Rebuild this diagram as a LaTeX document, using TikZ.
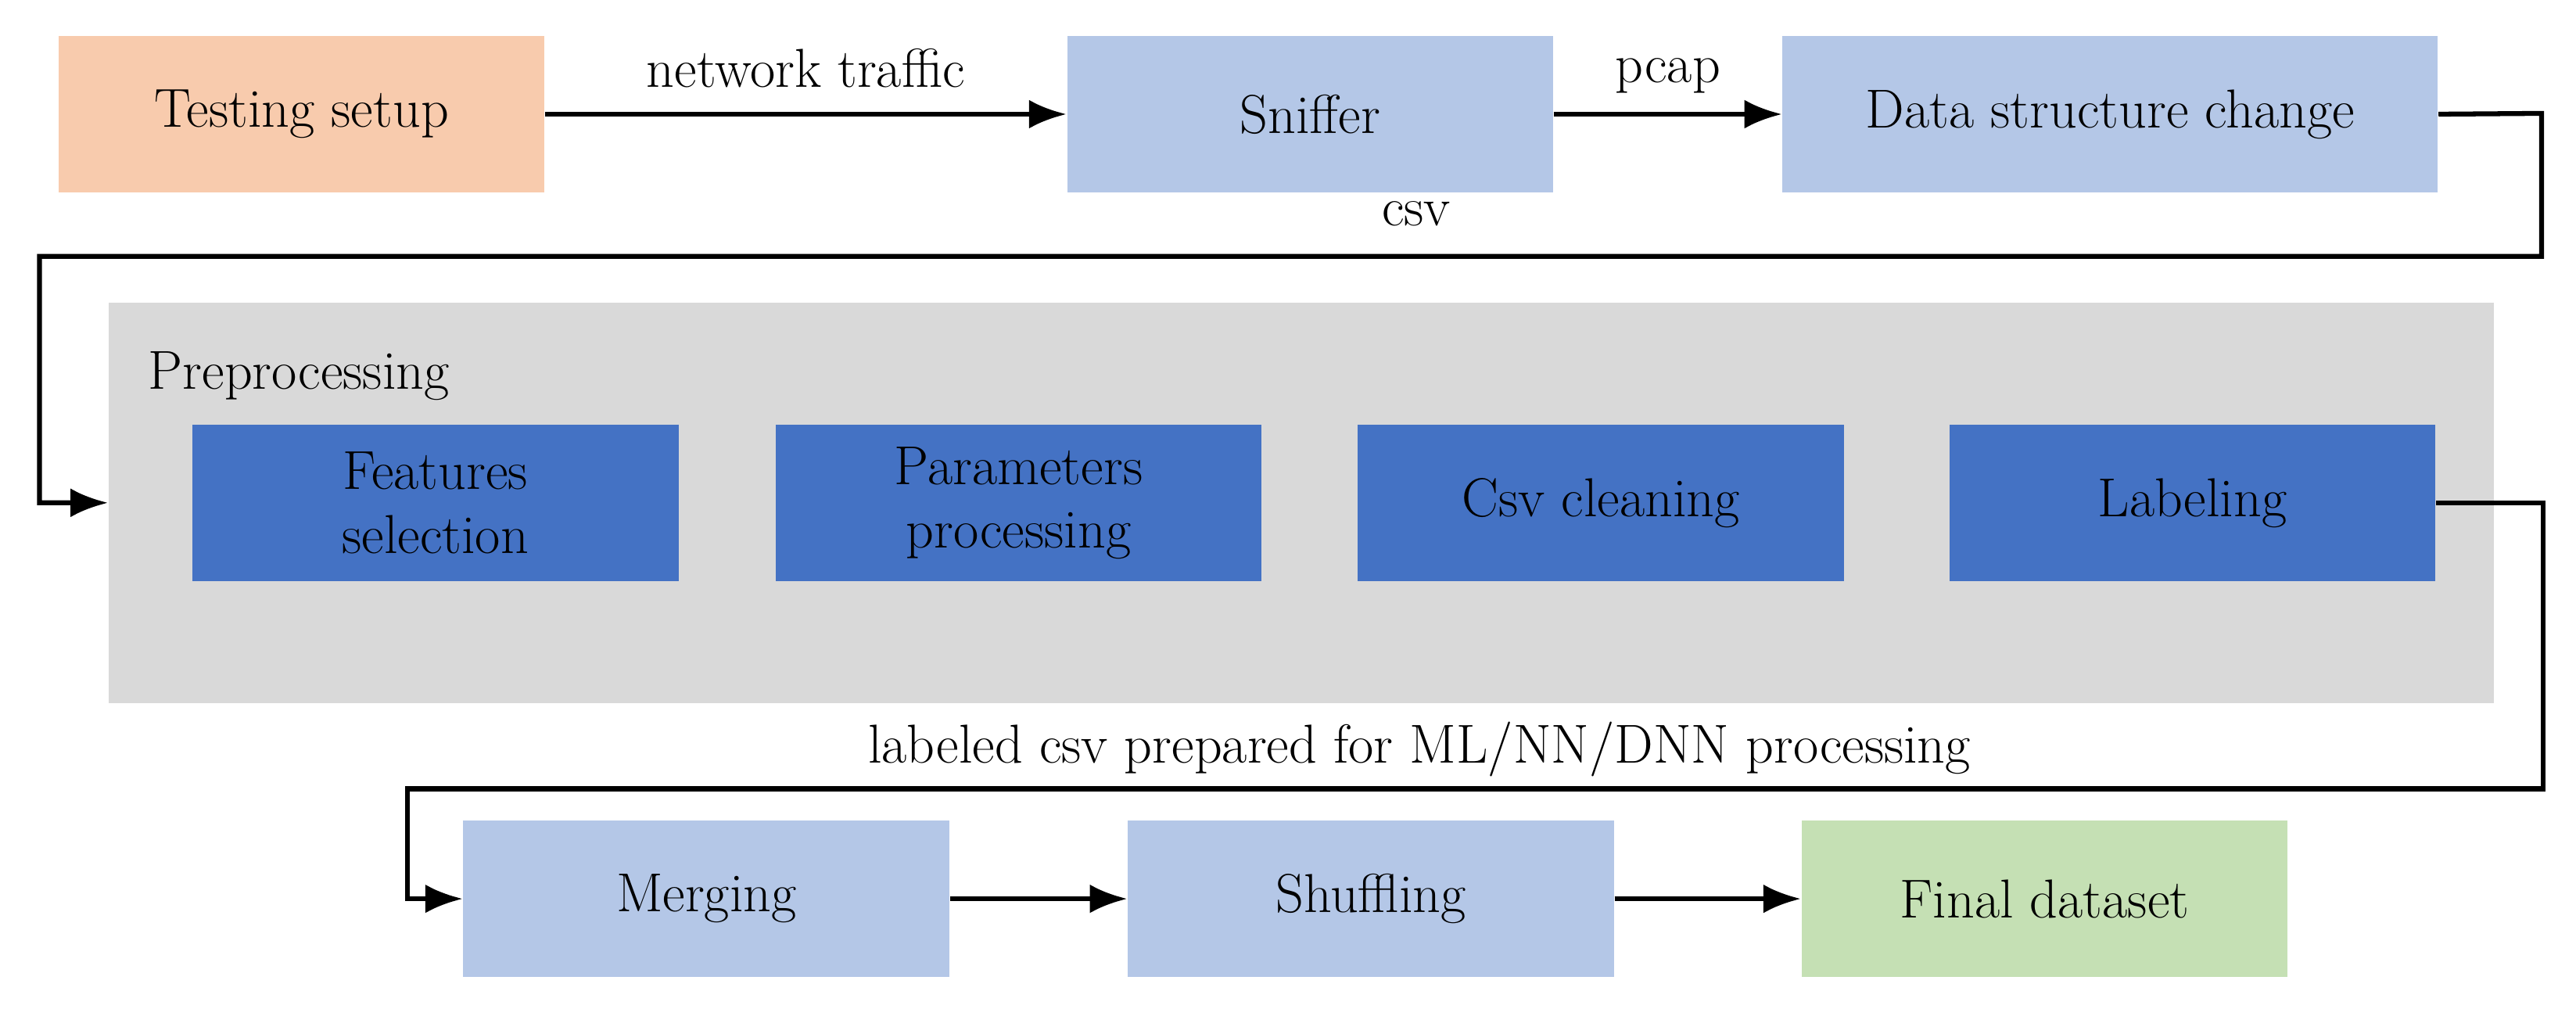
\documentclass[tikz,border=0pt]{standalone}
\usetikzlibrary{arrows.meta}
\definecolor{peach}{HTML}{F8CBAD}
\definecolor{lblue}{HTML}{B4C7E7}
\definecolor{dblue}{HTML}{4472C4}
\definecolor{lgreen}{HTML}{C5E0B4}
\definecolor{lgray}{HTML}{D9D9D9}
\begin{document}
\begin{tikzpicture}[x=0.02cm,y=-0.02cm,
  every node/.style={font=\fontsize{19}{22}\selectfont},
  box/.style={draw=none,minimum width=5.92cm,minimum height=1.9cm,align=center,inner sep=0pt},
  conn/.style={line width=1.7pt,-{Latex[length=13pt,width=10pt]}},
  line/.style={line width=1.7pt}]
\useasboundingbox (0,0) rectangle (1568,614);
\node[box,fill=peach] (ts) at (183.5,69.5) {Testing setup};
\node[box,fill=lblue] (sn) at (797.5,69.5) {Sniffer};
\node[box,fill=lblue,minimum width=7.98cm] (dsc) at (1284.5,69.5) {Data structure change};
\node[fill=lgray,minimum width=29.04cm,minimum height=4.88cm,inner sep=0pt] (pre) at (792,306) {};
\node[anchor=west,inner sep=0pt] (pl) at (90,229) {Preprocessing};
\node[box,fill=dblue] (f1) at (265,306) {Features\\selection};
\node[box,fill=dblue] (f2) at (620,306) {Parameters\\processing};
\node[box,fill=dblue] (f3) at (974.5,306) {Csv cleaning};
\node[box,fill=dblue] (f4) at (1334.5,306) {Labeling};
\node[box,fill=lblue] (me) at (430,547) {Merging};
\node[box,fill=lblue] (sh) at (834.5,547) {Shuffling};
\node[box,fill=lgreen] (fd) at (1244.5,547) {Final dataset};
\coordinate (c1) at (1547,69);
\coordinate (c2) at (1547,156);
\coordinate (c3) at (24,156);
\coordinate (c4) at (24,306);
\coordinate (d1) at (1548,306);
\coordinate (d2) at (1548,480);
\coordinate (d3) at (248,480);
\coordinate (d4) at (248,547);
\draw[conn] (ts) -- node[above=5pt] (l1) {network traffic} (sn);
\draw[conn] (sn) -- node[above=3pt] (l2) {pcap} (dsc);
\draw[conn] (dsc.east) -- (c1) -- (c2) -- (c3) -- (c4) -- (pre.west);
\node (l3) at (862,130) {csv};
\draw[conn] (f4.east) -- (d1) -- (d2) -- (d3) -- (d4) -- (me.west);
\node (l4) at (864,456) {labeled csv prepared for ML/NN/DNN processing};
\draw[conn] (me) -- (sh);
\draw[conn] (sh) -- (fd);
\end{tikzpicture}
\end{document}
